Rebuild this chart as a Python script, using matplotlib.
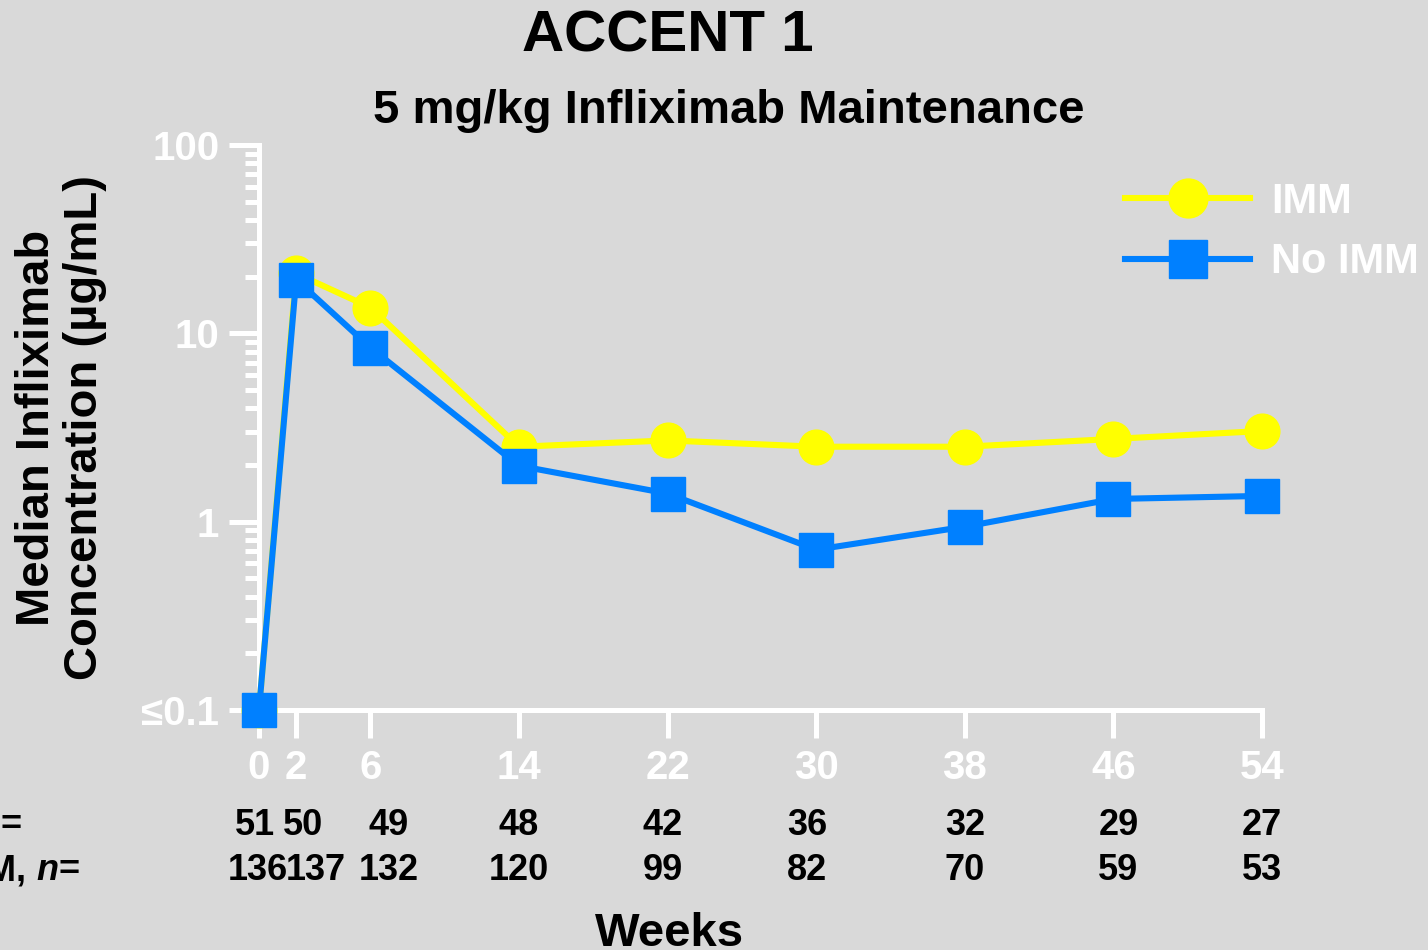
import matplotlib
matplotlib.use("Agg")
import matplotlib.pyplot as plt
import matplotlib.transforms as mtransforms
from matplotlib.ticker import FixedLocator, NullFormatter, LogLocator

plt.rcParams['font.family'] = ['Liberation Sans', 'DejaVu Sans']
plt.rcParams['font.weight'] = 'bold'

# ---- data ----
weeks = [0, 2, 6, 14, 22, 30, 38, 46, 54]
imm_conc = [0.1, 20.8, 13.7, 2.5, 2.7, 2.5, 2.5, 2.75, 3.03]
no_imm_conc = [0.1, 19.3, 8.4, 1.98, 1.41, 0.71, 0.94, 1.32, 1.37]
imm_n = [51, 50, 49, 48, 42, 36, 32, 29, 27]
no_imm_n = [136, 137, 132, 120, 99, 82, 70, 59, 53]
y_ticks = [0.1, 1, 10, 100]
y_ticklabels = ['≤0.1', '1', '10', '100']
series_labels = ['IMM', 'No IMM']
row_labels = ['IMM, ', 'No IMM, ']

# ---- layout ----
W, H = 1428, 950
BG = '#d9d9d9'
YEL = '#ffff00'
BLU = '#0080ff'
# pixel nudges for n= table columns (crowded columns)
nudge_row1 = [-4, 7, 18, 0, -5, -9, 0, 5, 0]
nudge_row2 = [-1, 20, 18, 0, -5, -9, 0, 5, 0]

fig = plt.figure(figsize=(W / 100, H / 100), dpi=100, facecolor=BG)
ax = fig.add_axes([259 / W, (H - 710) / H, (1262 - 259) / W, (710 - 145) / H])
ax.set_facecolor(BG)

ax.plot(weeks, imm_conc, color=YEL, lw=4.4, marker='o', ms=25,
        mec=YEL, mfc=YEL, clip_on=False, zorder=3, label=series_labels[0])
ax.plot(weeks, no_imm_conc, color=BLU, lw=4.4, marker='s', ms=24,
        mec=BLU, mfc=BLU, clip_on=False, zorder=4, label=series_labels[1])

ax.set_yscale('log')
ax.set_ylim(0.1, 100)
ax.set_xlim(0, 54)
ax.yaxis.set_major_locator(FixedLocator(y_ticks))
ax.set_yticklabels(y_ticklabels)
ax.yaxis.set_minor_locator(LogLocator(base=10, subs=range(2, 10)))
ax.yaxis.set_minor_formatter(NullFormatter())
ax.set_xticks(weeks)
ax.set_xticklabels([str(w) for w in weeks])

for s in ['top', 'right']:
    ax.spines[s].set_visible(False)
for s in ['left', 'bottom']:
    ax.spines[s].set_color('white')
    ax.spines[s].set_linewidth(3.6)
ax.tick_params(axis='y', which='major', length=21.6, width=3.6, color='white',
               labelcolor='white', labelsize=29, pad=7)
ax.tick_params(axis='y', which='minor', length=10, width=3.6, color='white')
ax.tick_params(axis='x', which='major', length=20, width=3.6, color='white',
               labelcolor='white', labelsize=29, pad=8)
for lab in ax.get_xticklabels() + ax.get_yticklabels():
    lab.set_fontweight('bold')

leg = ax.legend(loc='center left', bbox_to_anchor=(1125 / W, (H - 232) / H),
                bbox_transform=fig.transFigure, frameon=False, fontsize=30,
                handlelength=3.0, handletextpad=0.5, labelspacing=0.5,
                markerscale=1.12, borderpad=0, borderaxespad=0)
for t in leg.get_texts():
    t.set_color('white')
    t.set_fontweight('bold')

# titles
fig.text(668 / W, (H - 52) / H, 'ACCENT 1', ha='center', va='baseline',
         fontsize=42, fontweight='bold', color='black')
fig.text(729 / W, (H - 123) / H, '5 mg/kg Infliximab Maintenance', ha='center',
         va='baseline', fontsize=34, fontweight='bold', color='black')
# y label
fig.text(37 / W, (H - 428) / H, 'Median Infliximab', rotation=90, ha='center',
         va='center', fontsize=34, fontweight='bold', color='black')
fig.text(85 / W, (H - 428) / H, 'Concentration (µg/mL)', rotation=90,
         ha='center', va='center', fontsize=34, fontweight='bold', color='black')
# x label
fig.text(670 / W, (H - 946) / H, 'Weeks', ha='center', va='baseline',
         fontsize=34, fontweight='bold', color='black')

# n table
blend = mtransforms.blended_transform_factory(ax.transData, fig.transFigure)
for row_vals, nud, base in [(imm_n, nudge_row1, 835), (no_imm_n, nudge_row2, 880)]:
    for w, v, d in zip(weeks, row_vals, nud):
        tr = blend + mtransforms.ScaledTranslation(d / 100, 0, fig.dpi_scale_trans)
        fig.text(w, (H - base) / H, str(v), transform=tr, ha='center',
                 va='baseline', fontsize=26, fontweight='bold', color='black')

# row labels (start off-canvas on the left, as in the reference)
fig.canvas.draw()
renderer = fig.canvas.get_renderer()
for lab, base in zip(row_labels, [835, 880]):
    x = -112
    for piece, style in [(lab, 'normal'), ('n', 'italic'), ('=', 'normal')]:
        t = fig.text(x / W, (H - base) / H, piece, ha='left', va='baseline',
                     fontsize=26, fontweight='bold', style=style, color='black')
        bb = t.get_window_extent(renderer)
        x += bb.width

fig.savefig('out.png', dpi=100, facecolor=BG)
